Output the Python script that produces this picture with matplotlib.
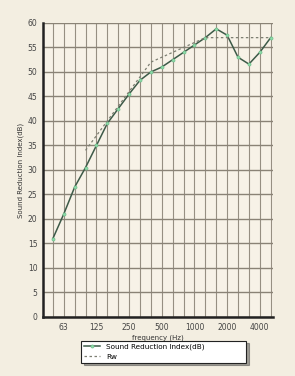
import matplotlib.pyplot as plt

# third-octave bands (Hz)
bands = ['50', '63', '80', '100', '125', '160', '200', '250', '315', '400', '500',
         '630', '800', '1000', '1250', '1600', '2000', '2500', '3150', '4000', '5000']
# measured sound reduction index (dB)
sri = [16, 21, 26.5, 30.5, 35, 39.5, 42.5, 45.5, 48.3, 50, 51,
       52.5, 54, 55.5, 57, 58.8, 57.5, 53, 51.6, 54, 57]
# shifted reference curve (Rw), from 100 Hz up
rw_bands = bands[3:]
rw = [34, 37, 40, 43, 46, 49, 52, 53, 54, 55, 56, 57, 57, 57, 57, 57, 57, 57]
tick_labels = ['63', '125', '250', '500', '1000', '2000', '4000']

x = list(range(len(bands)))
x_rw = [bands.index(b) for b in rw_bands]
x_ticks = [bands.index(t) for t in tick_labels]

fig = plt.figure(figsize=(2.95, 3.76), dpi=100, facecolor='#f3eee1')
ax = fig.add_axes([0.146, 0.157, 0.779, 0.782])
ax.set_facecolor('#f7f2e7')

l1, = ax.plot(x, sri, color='#3d5a48', lw=1.1, marker='o', ms=2.2,
              mfc='#8fdcaa', mec='#6fbf8c', mew=0.5, label='Sound Reduction Index(dB)')
l2, = ax.plot(x_rw, rw, color='#7d7f72', lw=0.9, ls=(0, (2, 2)), label='Rw')

ax.set_xlim(-0.9, 20.2)
ax.set_ylim(0, 60)
ax.set_yticks(range(0, 61, 5))
ax.set_xticks(x_ticks)
ax.set_xticklabels(tick_labels)
ax.set_xticks(x, minor=True)
ax.grid(True, which='both', axis='x', color='#968f82', lw=0.8)
ax.grid(True, which='major', axis='y', color='#8a8376', lw=1.0)
ax.set_axisbelow(True)

for s in ['top', 'right']:
    ax.spines[s].set_visible(False)
for s in ['left', 'bottom']:
    ax.spines[s].set_linewidth(1.8)
    ax.spines[s].set_color('#222222')

ax.tick_params(length=0, labelsize=5.5, colors='#444444', pad=4)
ax.tick_params(which='minor', length=0)
ax.set_ylabel('Sound Reduction Index(dB)', fontsize=5, color='#333333', labelpad=3)
ax.set_xlabel('frequency (Hz)', fontsize=5, color='#333333', labelpad=2)

leg = fig.legend(handles=[l1, l2], loc='upper left',
                 bbox_to_anchor=(0.264, 0.04, 0.583, 0.064), mode='expand',
                 fontsize=5.2, frameon=True, fancybox=False, shadow=True,
                 handlelength=2.2, borderpad=0.4, labelspacing=0.5)
leg.get_frame().set_edgecolor('#222222')
leg.get_frame().set_linewidth(0.8)

fig.savefig('out.png', dpi=100, facecolor=fig.get_facecolor())
